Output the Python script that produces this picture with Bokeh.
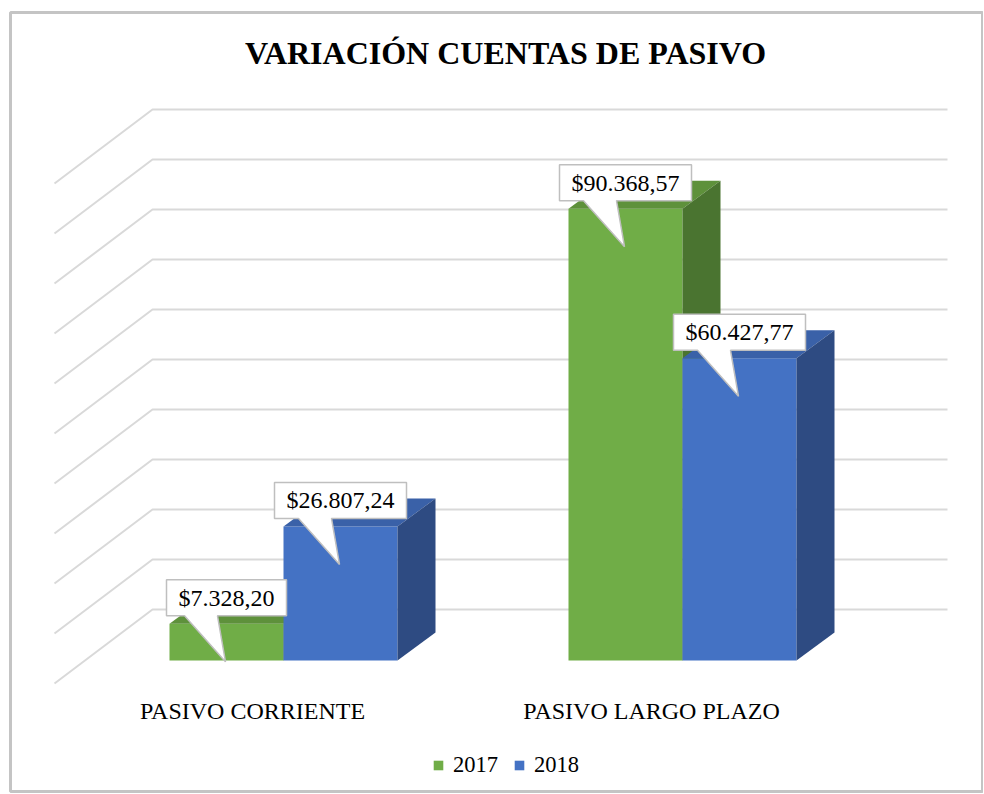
from bokeh.plotting import figure
from bokeh.models import Range1d, Legend, LegendItem
from bokeh.embed import file_html
from bokeh.resources import INLINE
from bokeh.core.properties import value

# ---------------- data ----------------
categories = ["PASIVO CORRIENTE", "PASIVO LARGO PLAZO"]
years = ["2017", "2018"]
values_2017 = [7328.20, 90368.57]
values_2018 = [26807.24, 60427.77]
tick_values = [0, 10000, 20000, 30000, 40000, 50000, 60000, 70000, 80000, 90000, 100000]
title_text = "VARIACIÓN CUENTAS DE PASIVO"

# ---------------- style ----------------
W, H = 983, 793
BL, BT, BR, BB = 10, 12, 0, 2          # borders around the frame
PX_PER_CAT = 399.0                     # pixels between category centres
PX_PER_VAL = 0.005                     # pixels per value unit
FONT = "Liberation Serif"

front_colors = ["#70AD47", "#4472C4"]
top_colors = ["#5E913B", "#3A61A8"]
side_colors = ["#4A7430", "#2E4B82"]
grid_color = "#D9D9D9"


def dx(px):
    return px / PX_PER_CAT


def dy(px):
    return px / PX_PER_VAL


# canvas position of first category centre and of the bar floor
x0_px, floor_px = 283.0, 660.0
p = figure(width=W, height=H, output_backend="svg", toolbar_location=None,
           x_axis_type=None, y_axis_type=None,
           min_border_left=BL, min_border_top=BT,
           min_border_right=BR, min_border_bottom=BB,
           x_range=Range1d(dx(BL - x0_px), dx(W - BR - x0_px)),
           y_range=Range1d(dy(floor_px - (H - BB)), dy(floor_px - BT)))
p.grid.visible = False
p.background_fill_color = "white"
p.border_fill_color = "white"
p.outline_line_color = "#C4C4C4"
p.outline_line_width = 3

# ---------------- 3D walls (gridlines) ----------------
depth_x, depth_y = 98, 74          # total floor depth projection (px)
back_shift_y = 51                  # back wall above bar front plane (px)
bar_depth_x, bar_depth_y = 38, 28  # bar depth projection (px)
wall_left = 0 - dx(131)
wall_right = (len(categories) - 1) + dx(265)
gx, gy = [], []
for t in tick_values:
    yb = t + dy(back_shift_y)
    gx.append([wall_left - dx(depth_x), wall_left, wall_right])
    gy.append([yb - dy(depth_y), yb, yb])
p.multi_line(gx, gy, line_color=grid_color, line_width=2)

# ---------------- bars ----------------
series = [values_2017, values_2018]
offsets = [dx(-57), dx(57)]
half_w = dx(57)
ddx, ddy = dx(bar_depth_x), dy(bar_depth_y)
front_renderers = []
for s, vals in enumerate(series):
    lefts, rights, tops = [], [], []
    top_xs, top_ys, side_xs, side_ys = [], [], [], []
    for i, v in enumerate(vals):
        cx = i + offsets[s]
        L, R = cx - half_w, cx + half_w
        lefts.append(L)
        rights.append(R)
        tops.append(v)
        top_xs.append([L, R, R + ddx, L + ddx])
        top_ys.append([v, v, v + ddy, v + ddy])
        side_xs.append([R, R + ddx, R + ddx, R])
        side_ys.append([0, ddy, v + ddy, v])
    r = p.quad(left=lefts, right=rights, bottom=[0] * len(vals), top=tops,
               fill_color=front_colors[s], line_color=None)
    front_renderers.append(r)
    p.patches(top_xs, top_ys, fill_color=top_colors[s], line_color=None)
    p.patches(side_xs, side_ys, fill_color=side_colors[s], line_color=None)


# ---------------- callout data labels ----------------
def fmt(v):
    s = f"${v:,.2f}"
    return s.replace(",", "X").replace(".", ",").replace("X", ".")


def text_w(s, size=24):
    w = 0
    for ch in s:
        w += 0.25 if ch in ".," else 0.5
    return w * size


cxs, cys, ctexts = [], [], []
pxs, pys = [], []
for s, vals in enumerate(series):
    for i, v in enumerate(vals):
        cx = i + offsets[s]
        lab = fmt(v)
        bw = text_w(lab) + 24
        bb, bt = v + dy(8), v + dy(44)
        pxs.append([cx - dx(bw / 2), cx - dx(42), cx - dx(1), cx - dx(9),
                    cx + dx(bw / 2), cx + dx(bw / 2), cx - dx(bw / 2)])
        pys.append([bb, bb, v - dy(38), bb, bb, bt, bt])
        cxs.append(cx)
        cys.append(v + dy(26))
        ctexts.append(lab)
p.patches(pxs, pys, fill_color="white", line_color="#BFBFBF", line_width=1.5)
p.text(x=cxs, y=cys, text=ctexts, text_font=value(FONT), text_font_size="24px",
       text_align="center", text_baseline="middle", text_color="black")

# ---------------- category labels ----------------
p.text(x=[i - dx(31) for i in range(len(categories))],
       y=[dy(-50)] * len(categories), text=categories,
       text_font=value(FONT), text_font_size="24px",
       text_align="center", text_baseline="middle", text_color="black")

# ---------------- title ----------------
p.text(x=[dx(505 - x0_px)], y=[dy(floor_px - 52)], text=[title_text],
       text_font=value(FONT), text_font_size="32px", text_font_style="bold",
       text_align="center", text_baseline="middle", text_color="black")

# ---------------- legend ----------------
legend = Legend(items=[LegendItem(label=years[k], renderers=[front_renderers[k]])
                       for k in range(len(years))],
                orientation="horizontal", location=(422, 13),
                glyph_width=12, glyph_height=12, label_standoff=9, spacing=15,
                padding=0, margin=0, border_line_color=None,
                background_fill_alpha=0, label_text_font=FONT,
                label_text_font_size="22.5px", label_text_color="black")
p.add_layout(legend)

open("out.html", "w").write(file_html(p, INLINE))
